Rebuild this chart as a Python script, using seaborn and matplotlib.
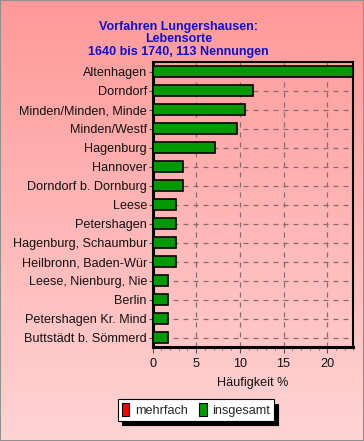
import numpy as np
import pandas as pd
import matplotlib
matplotlib.use("Agg")
import matplotlib.pyplot as plt
from matplotlib.patches import Patch
from matplotlib.ticker import MultipleLocator
import seaborn as sns

orte = ["Altenhagen", "Dorndorf", "Minden/Minden, Minde", "Minden/Westf", "Hagenburg",
        "Hannover", "Dorndorf b. Dornburg", "Leese", "Petershagen", "Hagenburg, Schaumbur",
        "Heilbronn, Baden-Wür", "Leese, Nienburg, Nie", "Berlin", "Petershagen Kr. Mind",
        "Buttstädt b. Sömmerd"]
insgesamt = [23.0, 11.5, 10.6, 9.7, 7.1, 3.5, 3.5, 2.7, 2.7, 2.7, 2.7, 1.8, 1.8, 1.8, 1.8]
legend_labels = ["mehrfach", "insgesamt"]
title = "Vorfahren Lungershausen:\nLebensorte\n1640 bis 1740, 113 Nennungen"
xlabel = "Häufigkeit %"

df = pd.DataFrame({"Ort": orte, "Prozent": insgesamt})

sns.set_theme(style="white")
plt.rcParams["font.family"] = ["Liberation Sans", "DejaVu Sans"]

FS = 9.1

fig = plt.figure(figsize=(3.64, 4.41), dpi=100)

# gradient background
bg = fig.add_axes([0, 0, 1, 1], zorder=-10)
grad = np.linspace(0, 1, 256)[:, None]
top = np.array([1.0, 0.60, 0.60])
bot = np.array([1.0, 0.83, 0.83])
img = top[None, None, :] * (1 - grad[:, :, None]) + bot[None, None, :] * grad[:, :, None]
bg.imshow(img, aspect="auto", extent=[0, 1, 0, 1])
bg.set_axis_off()
fig.patches.append(plt.Rectangle((0, 0), 1, 1, transform=fig.transFigure, fill=False,
                                 edgecolor="#909090", lw=1.5))

ax = fig.add_axes([0.419, 0.213, 0.552, 0.646])
ax.patch.set_alpha(0)
sns.barplot(data=df, y="Ort", x="Prozent", orient="h", color="#009900",
            edgecolor="black", linewidth=1.2, width=0.55, saturation=1, ax=ax, zorder=3)
ax.set_xlim(0, 23.0)
ax.set_ylim(len(orte) - 0.5, -0.5)
ax.xaxis.set_major_locator(MultipleLocator(5))
ax.xaxis.set_minor_locator(MultipleLocator(1))
ax.grid(True, which="major", axis="both", color="#8a6a6a", linestyle=(0, (4, 4)), lw=0.9, zorder=0)
ax.set_axisbelow(True)
for s in ax.spines.values():
    s.set_color("black")
    s.set_linewidth(1.5)
ax.spines["bottom"].set_linewidth(2.2)
ax.spines["left"].set_linewidth(2.2)
ax.tick_params(axis="x", which="major", direction="out", length=4, width=0.8, color="#555555",
               labelsize=FS, pad=4, bottom=True)
ax.tick_params(axis="x", which="minor", direction="out", length=2, width=0.6, color="#555555", bottom=True)
ax.tick_params(axis="y", direction="out", length=3, width=0.8, color="#555555", labelsize=FS,
               pad=1, left=True)
ax.set_ylabel("")
ax.set_xlabel(xlabel, fontsize=FS, color="#111111", labelpad=5)
for lab in ax.get_yticklabels() + ax.get_xticklabels():
    lab.set_color("#111111")

fig.text(0.49, 0.953, title, ha="center", va="top", color="#1010d0", fontsize=9,
         fontweight="bold", linespacing=1.05)

handles = [Patch(facecolor="#ff0000", edgecolor="black", lw=0.8),
           Patch(facecolor="#009900", edgecolor="black", lw=0.8)]
leg = fig.legend(handles, legend_labels, ncol=2, loc="center left",
                 bbox_to_anchor=(118 / 364, 1 - 410 / 441),
                 frameon=True, fancybox=False, edgecolor="black", framealpha=1, facecolor="white",
                 fontsize=FS, handlelength=0.6, handleheight=1.2, handletextpad=0.45,
                 columnspacing=0.9, borderpad=0.3, borderaxespad=0,
                 shadow={"color": "black", "alpha": 1, "ox": 3, "oy": -3})
leg.get_frame().set_linewidth(0.8)

fig.savefig("out.png", dpi=100)
